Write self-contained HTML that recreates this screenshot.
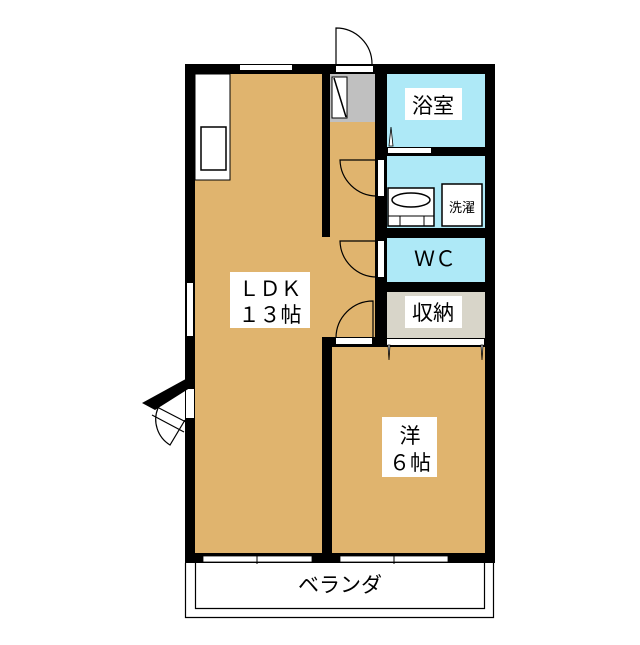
<!DOCTYPE html>
<html><head><meta charset="utf-8"><style>
html,body{margin:0;padding:0;background:#fff;}
svg text{font-family:"Liberation Sans","Noto Sans CJK JP",sans-serif;}
</style></head><body>
<svg width="640" height="640" viewBox="0 0 640 640" xmlns="http://www.w3.org/2000/svg">
<!-- floors -->
<rect x="185" y="64" width="310" height="499" fill="#000"/>
<rect x="195" y="74" width="127" height="479" fill="#e0b46e"/>
<rect x="322" y="237" width="53" height="100" fill="#e0b46e"/>
<rect x="330" y="74" width="45" height="163" fill="#e0b46e"/>
<rect x="330" y="74" width="45" height="48" fill="#c0c0c0"/>
<rect x="332" y="77" width="15" height="41" fill="#fff" stroke="#000" stroke-width="1"/>
<line x1="334" y1="78" x2="346" y2="117" stroke="#000" stroke-width="1.5"/>
<rect x="387" y="74" width="98" height="73" fill="#aee9f7"/>
<rect x="387" y="156" width="98" height="72" fill="#aee9f7"/>
<rect x="387" y="238" width="98" height="44" fill="#aee9f7"/>
<rect x="387" y="292" width="98" height="46" fill="#d8d5c9"/>
<rect x="332" y="347" width="153" height="206" fill="#e0b46e"/>
<!-- kitchen -->
<rect x="195" y="74" width="35" height="106" fill="#fff" stroke="#000" stroke-width="1"/>
<rect x="201" y="127" width="25" height="43" fill="#fff" stroke="#000" stroke-width="1.5"/>
<!-- windows / openings -->
<rect x="240" y="65" width="52" height="5" fill="#fff"/>
<rect x="336" y="66" width="37" height="6" fill="#fff"/>
<path d="M336 64 V28 A36 36 0 0 1 372 64" fill="none" stroke="#000" stroke-width="1.2"/>
<rect x="187" y="283" width="6" height="53" fill="#fff"/>
<rect x="186" y="389" width="8" height="29" fill="#fff"/>
<polygon points="193,375 193,386 155,410 142,403" fill="#000"/>
<path d="M157 407 L186 422 M152 415 L184 432 M158 408 A30 30 0 0 0 170 445 L185 420" fill="none" stroke="#000" stroke-width="1.2"/>
<!-- bath door -->
<rect x="388" y="148" width="43" height="5" fill="#fff"/>
<path d="M389 146 L391 127 L393 146 Z" fill="#fff" stroke="#000" stroke-width="0.8"/>
<!-- washroom door -->
<rect x="378" y="160" width="6" height="36" fill="#fff"/>
<path d="M377 196 A37 37 0 0 1 340 160 H377" fill="none" stroke="#000" stroke-width="1.2"/>
<!-- WC door -->
<rect x="378" y="241" width="6" height="36" fill="#fff"/>
<path d="M377 277 A37 37 0 0 1 340 241 H377" fill="none" stroke="#000" stroke-width="1.2"/>
<!-- western room door -->
<rect x="336" y="338" width="36" height="6" fill="#fff"/>
<path d="M336 338 A37 37 0 0 1 373 301 V338" fill="none" stroke="#000" stroke-width="1.2"/>
<!-- storage door -->
<rect x="387" y="339" width="97" height="6" fill="#fff"/>
<path d="M388 345 L389 360 L390 345 Z M481 345 L482 360 L483 345 Z" fill="#fff" stroke="#000" stroke-width="0.8"/>
<!-- sink & laundry -->
<rect x="388" y="188" width="46" height="38" fill="#fff" stroke="#000" stroke-width="1.5"/>
<ellipse cx="411" cy="200" rx="19" ry="7" fill="#fff" stroke="#000" stroke-width="1.5"/>
<path d="M388 216 H434 M400 216 V226 M424 216 V226" stroke="#000" stroke-width="1"/>
<rect x="442" y="184" width="40" height="42" fill="#fff" stroke="#000" stroke-width="1.5"/>
<text x="462" y="212" font-size="13" text-anchor="middle">洗濯</text>
<!-- labels -->
<rect x="405" y="88" width="57" height="32" fill="#fff"/>
<text x="433" y="113" font-size="21" text-anchor="middle">浴室</text>
<text x="435" y="266" font-size="21" text-anchor="middle">ＷＣ</text>
<rect x="405" y="296" width="57" height="32" fill="#fff"/>
<text x="433" y="320" font-size="21" text-anchor="middle">収納</text>
<rect x="230" y="272" width="80" height="56" fill="#fff"/>
<text x="270" y="296" font-size="21" text-anchor="middle">ＬＤＫ</text>
<text x="270" y="322" font-size="21" text-anchor="middle">１３帖</text>
<rect x="382" y="417" width="55" height="60" fill="#fff"/>
<text x="410" y="443" font-size="21" text-anchor="middle">洋</text>
<text x="410" y="470" font-size="21" text-anchor="middle">６帖</text>
<!-- bottom windows -->
<rect x="203" y="556" width="109" height="6" fill="#fff" stroke="#000" stroke-width="0.8"/>
<line x1="257" y1="555" x2="257" y2="564" stroke="#000"/>
<rect x="340" y="556" width="108" height="6" fill="#fff" stroke="#000" stroke-width="0.8"/>
<line x1="394" y1="555" x2="394" y2="564" stroke="#000"/>
<!-- balcony -->
<path d="M185.5 563 V617.5 H493.5 V563" fill="none" stroke="#000" stroke-width="1.2"/>
<path d="M195.5 563 V608.5 H484.5 V563" fill="none" stroke="#000" stroke-width="1.2"/>
<text x="340" y="592" font-size="21" text-anchor="middle">ベランダ</text>
</svg>
</body></html>
